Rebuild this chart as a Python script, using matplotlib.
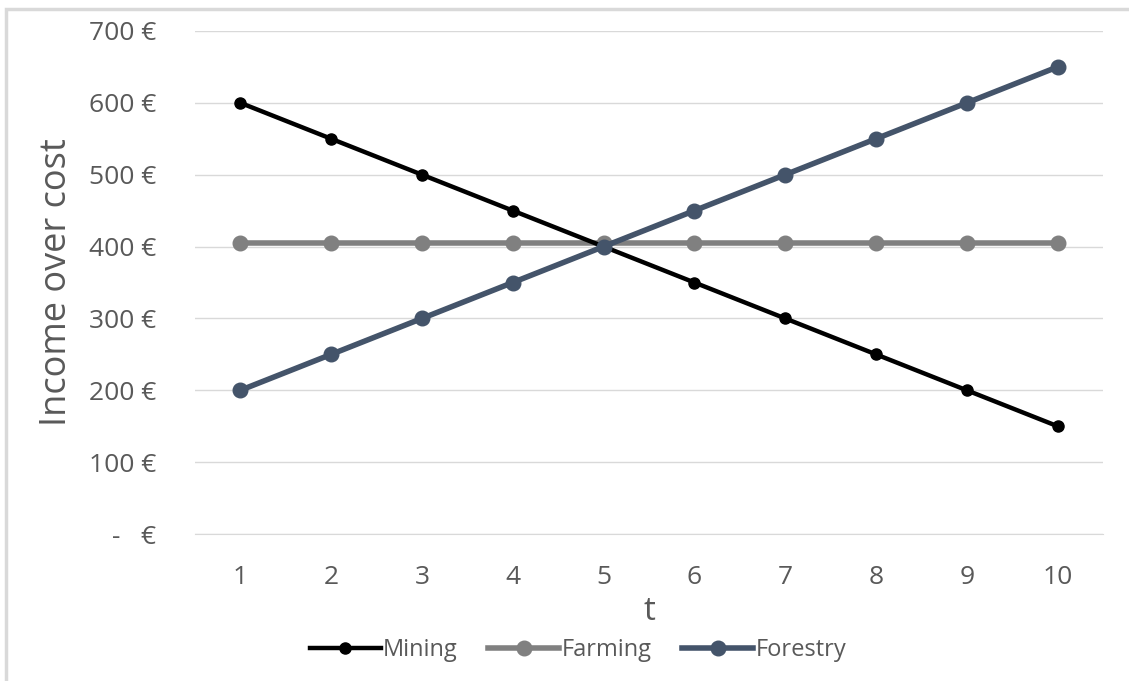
import numpy as np
import matplotlib.pyplot as plt
from matplotlib.ticker import FuncFormatter
from matplotlib.patches import Rectangle

t = [1, 2, 3, 4, 5, 6, 7, 8, 9, 10]
mining = [600, 550, 500, 450, 400, 350, 300, 250, 200, 150]
farming = [405, 405, 405, 405, 405, 405, 405, 405, 405, 405]
forestry = [200, 250, 300, 350, 400, 450, 500, 550, 600, 650]

plt.rcParams['font.family'] = ['Open Sans', 'DejaVu Sans']
text_color = '#595959'

fig = plt.figure(figsize=(11.29, 6.81), dpi=100)
# chart area border
fig.patches.append(Rectangle((6 / 1129, -0.05), 1.2, 1 - 9 / 681 + 0.05,
                             transform=fig.transFigure, fill=False,
                             edgecolor='#d9d9d9', linewidth=2.5))

ax = fig.add_axes([195 / 1129, 1 - 534 / 681, (1103 - 195) / 1129, (534 - 31) / 681])

ax.plot(t, mining, color='black', linewidth=3.2, marker='o', markersize=8, label='Mining', zorder=3)
ax.plot(t, farming, color='#808080', linewidth=4, marker='o', markersize=10.5, label='Farming', zorder=2)
ax.plot(t, forestry, color='#44546a', linewidth=4, marker='o', markersize=10.5, label='Forestry', zorder=4)

ax.set_xlim(0.5, 10.5)
ax.set_ylim(0, 700)
ax.set_xticks(t)
ax.set_yticks(np.arange(0, 701, 100))


def euro(v, pos):
    if v == 0:
        return '-   €'
    return f'{int(v)} €'


ax.yaxis.set_major_formatter(FuncFormatter(euro))
ax.grid(axis='y', color='#d9d9d9', linewidth=1)
ax.set_axisbelow(True)
for side in ['top', 'right', 'left']:
    ax.spines[side].set_visible(False)
ax.spines['bottom'].set_color('#d9d9d9')
ax.tick_params(axis='both', length=0, labelsize=19, labelcolor=text_color)
ax.tick_params(axis='x', pad=22)
ax.tick_params(axis='y', pad=28)

ax.set_xlabel('t', fontsize=24, color=text_color, labelpad=4)
ax.set_ylabel('Income over cost', fontsize=26, color=text_color, labelpad=10)

fig.legend(loc='center', bbox_to_anchor=(578 / 1129, 1 - 650 / 681), ncol=3, frameon=False,
           fontsize=17, labelcolor=text_color, handlelength=3.0, handletextpad=0.1,
           columnspacing=1.3)

fig.savefig('out.png', dpi=100)
